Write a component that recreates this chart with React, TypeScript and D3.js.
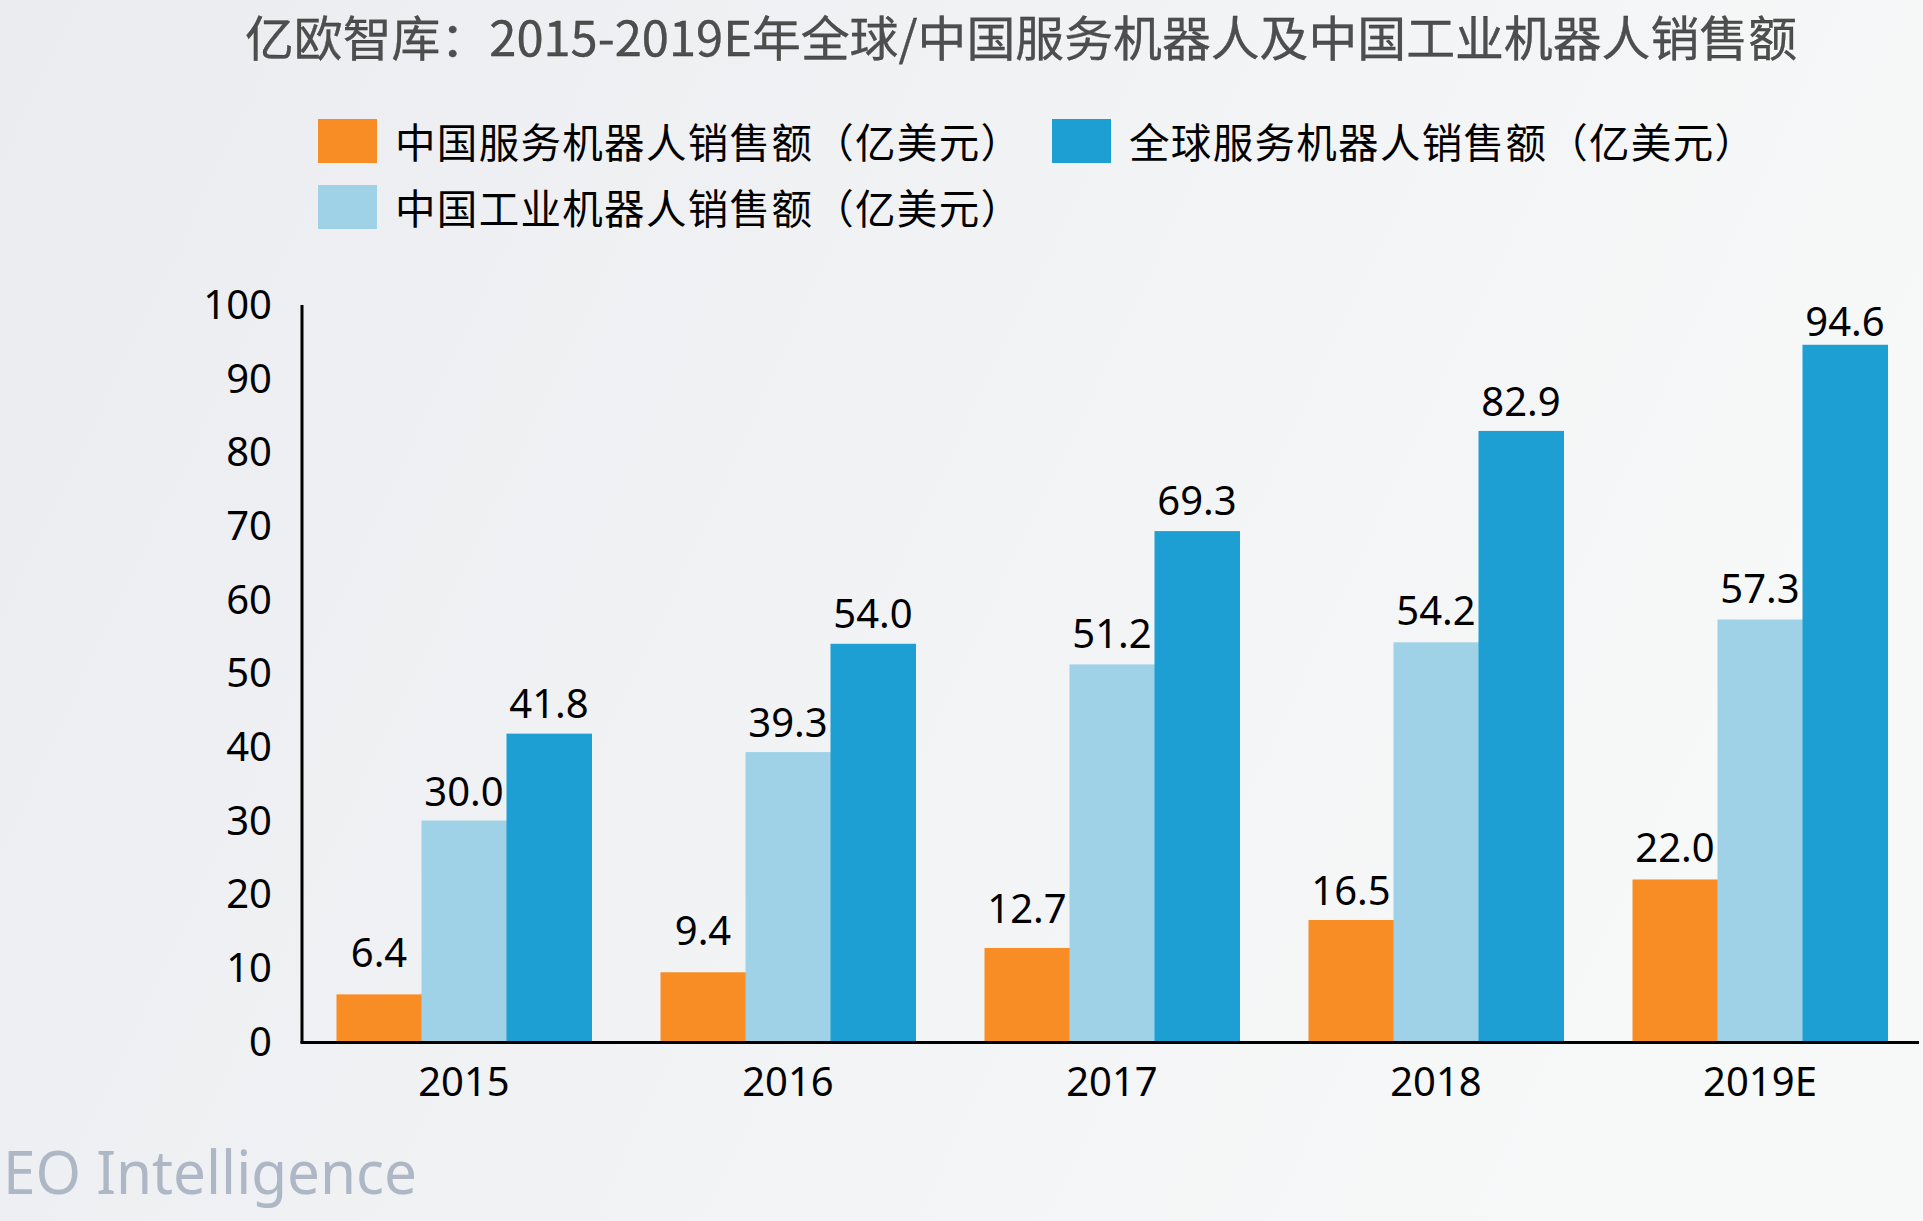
import React, { useEffect, useRef } from "react";
import * as d3 from "d3";

const categories = ["2015", "2016", "2017", "2018", "2019E"];
const seriesNames = [
  "中国服务机器人销售额（亿美元）",
  "中国工业机器人销售额（亿美元）",
  "全球服务机器人销售额（亿美元）",
];
const chinaService = [6.4, 9.4, 12.7, 16.5, 22.0];
const chinaIndustrial = [30.0, 39.3, 51.2, 54.2, 57.3];
const globalService = [41.8, 54.0, 69.3, 82.9, 94.6];
const seriesColors = ["#f78d24", "#9fd2e7", "#1d9fd3"];
// extra lift (px) of individual value labels, as placed in the source
const labelLiftChinaService = [12, 12, 10, 0, 2];
const labelLiftChinaIndustrial = [0, 0, 1, 2, 1];
const labelLiftGlobalService = [1, 1, 1, 0, -6];
const yTicks = [0, 10, 20, 30, 40, 50, 60, 70, 80, 90, 100];
const titleText = "亿欧智库：2015-2019E年全球/中国服务机器人及中国工业机器人销售额";
const watermark = "EO Intelligence";

const W = 1923;
const H = 1221;

export default function App() {
  const ref = useRef<SVGSVGElement>(null);

  useEffect(() => {
    document.body.style.margin = "0";
    const svg = d3.select(ref.current);
    svg.selectAll("*").remove();

    const defs = svg.append("defs");
    const grad = defs
      .append("linearGradient")
      .attr("id", "bg")
      .attr("x1", "0")
      .attr("y1", "0")
      .attr("x2", "1")
      .attr("y2", "0.3");
    grad.append("stop").attr("offset", "0").attr("stop-color", "#eaecf0");
    grad.append("stop").attr("offset", "1").attr("stop-color", "#f7f8f8");
    svg.append("rect").attr("width", W).attr("height", H).attr("fill", "url(#bg)");

    const latin = "'Noto Sans', 'Noto Sans CJK SC', sans-serif";
    const cjk = "'Noto Sans CJK SC', 'Noto Sans', sans-serif";

    // Title
    svg
      .append("text")
      .attr("x", 245)
      .attr("y", 55.5)
      .attr("font-family", cjk)
      .attr("font-size", 47.5)
      .attr("fill", "#4e4e4e")
      .attr("stroke", "#333")
      .attr("stroke-width", 0.3)
      .attr("textLength", 1552)
      .attr("lengthAdjust", "spacingAndGlyphs")
      .text(titleText);

    // Legend
    const legendItems = [
      { i: 0, x: 318, y: 119 },
      { i: 2, x: 1052, y: 119 },
      { i: 1, x: 318, y: 185 },
    ];
    legendItems.forEach(({ i, x, y }) => {
      svg
        .append("rect")
        .attr("x", x)
        .attr("y", y)
        .attr("width", 59)
        .attr("height", 44)
        .attr("fill", seriesColors[i]);
      svg
        .append("text")
        .attr("x", x + 77)
        .attr("y", y + 39)
        .attr("font-family", cjk)
        .attr("font-size", 40.5)
        .attr("fill", "#000")
        .attr("textLength", 626)
        .attr("lengthAdjust", "spacing")
        .text(seriesNames[i]);
    });

    // Scales
    const x0 = d3
      .scaleBand<string>()
      .domain(categories)
      .range([302, 1922])
      .paddingInner(0.213)
      .paddingOuter(0.1065);
    const x1 = d3
      .scaleBand<number>()
      .domain([0, 1, 2])
      .range([0, x0.bandwidth()])
      .padding(0);
    const y = d3.scaleLinear().domain([0, 100]).range([1041.5, 305]);

    const data = [chinaService, chinaIndustrial, globalService];
    const lifts = [labelLiftChinaService, labelLiftChinaIndustrial, labelLiftGlobalService];

    // Bars
    const g = svg.append("g");
    categories.forEach((c, ci) => {
      data.forEach((vals, si) => {
        const v = vals[ci];
        const bx = (x0(c) as number) + (x1(si) as number);
        g.append("rect")
          .attr("x", bx)
          .attr("y", y(v))
          .attr("width", x1.bandwidth() + 0.5)
          .attr("height", y(0) - y(v))
          .attr("fill", seriesColors[si]);
        g.append("text")
          .attr("x", bx + x1.bandwidth() / 2)
          .attr("y", y(v) - 15 - lifts[si][ci])
          .attr("text-anchor", "middle")
          .attr("font-family", latin)
          .attr("font-size", 40)
          .attr("fill", "#000")
          .text(v.toFixed(1));
      });
    });

    // Y axis
    svg
      .append("line")
      .attr("x1", 302)
      .attr("x2", 302)
      .attr("y1", y(100))
      .attr("y2", y(0) + 1.5)
      .attr("stroke", "#000")
      .attr("stroke-width", 3);
    yTicks.forEach((t) => {
      svg
        .append("text")
        .attr("x", 272)
        .attr("y", y(t) + 14)
        .attr("text-anchor", "end")
        .attr("font-family", latin)
        .attr("font-size", 40)
        .attr("fill", "#000")
        .text(String(t));
    });

    // X axis
    svg
      .append("line")
      .attr("x1", 300.5)
      .attr("x2", 1919)
      .attr("y1", y(0) + 1)
      .attr("y2", y(0) + 1)
      .attr("stroke", "#000")
      .attr("stroke-width", 3);
    categories.forEach((c) => {
      svg
        .append("text")
        .attr("x", (x0(c) as number) + x0.bandwidth() / 2)
        .attr("y", 1096)
        .attr("text-anchor", "middle")
        .attr("font-family", latin)
        .attr("font-size", 40)
        .attr("fill", "#000")
        .text(c);
    });

    // Watermark
    svg
      .append("text")
      .attr("x", 3)
      .attr("y", 1194)
      .attr("font-family", latin)
      .attr("font-size", 61)
      .attr("fill", "#adb7c5")
      .attr("textLength", 414)
      .attr("lengthAdjust", "spacingAndGlyphs")
      .text(watermark);
  }, []);

  return (
    <svg
      ref={ref}
      width={W}
      height={H}
      style={{ position: "absolute", left: 0, top: 0, display: "block" }}
    />
  );
}
